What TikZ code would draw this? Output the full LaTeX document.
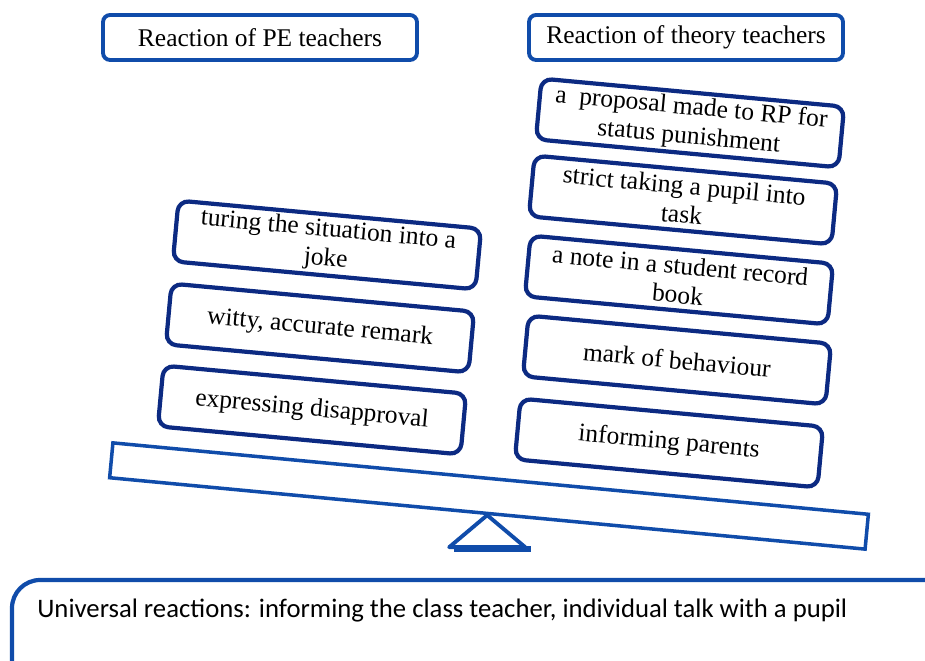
\documentclass[tikz,border=0pt]{standalone}
\usepackage{fontspec}
\setmainfont{Liberation Serif}
\newfontfamily\calibrifont{Carlito}
\definecolor{ScaleBlue}{RGB}{16,76,170}
\definecolor{BoxNavy}{RGB}{12,42,130}
\colorlet{ColourFrame}{ScaleBlue}
\colorlet{ColourBox}{BoxNavy}

\begin{document}
\begin{tikzpicture}[x=0.02cm,y=-0.02cm,
  headbox/.style={draw=ColourFrame, line width=2.2pt, rounded corners=4pt,
    minimum width=6.28cm, minimum height=0.9cm, font=\fontsize{14.5}{16}\selectfont},
  reactbox/.style={draw=ColourBox, line width=2.4pt, rounded corners=6pt, rotate=-5.3,
    minimum width=6.08cm, minimum height=1.22cm, align=center, inner sep=1pt,
    font=\fontsize{14.5}{16.5}\selectfont},
]

  \useasboundingbox (0,0) rectangle (925,661);
  \clip (0,0) rectangle (925,661);

  % headings
  \node[headbox] (pehead) at (260,37.5) {Reaction of PE teachers};
  \node[headbox] (thhead) at (686,37.5) {Reaction of theory teachers};

  % beam and fulcrum
  \node[draw=ColourFrame, line width=2pt, rotate=-5.4,
    minimum width=15.18cm, minimum height=0.7cm] (beam) at (489,496) {};
  \draw[ColourFrame, line width=2.2pt, line join=round]
    (beam.south) -- ++(38,32) -- ++(-76,0) -- cycle;
  \draw[ColourFrame, line width=3.4pt] (454,549) -- (531,549);

  % PE teachers
  \node[reactbox] (joke) at (327,245) {turing the situation into a\\joke};
  \node[reactbox] (witty) at (320,328) {witty, accurate remark};
  \node[reactbox] (disapp) at (312,410) {expressing disapproval};

  % theory teachers
  \node[reactbox] (propos) at (690,123) {a~ proposal made to RP for\\status punishment};
  \node[reactbox] (strict) at (683,200) {strict taking a pupil into\\task};
  \node[reactbox] (note) at (679,280) {a note in a student record\\book};
  \node[reactbox] (mark) at (677,360) {mark of behaviour};
  \node[reactbox] (parents) at (669,443) {informing parents};

  % universal reactions
  \draw[ColourFrame, line width=2.4pt, rounded corners=16pt]
    (12,700) -- (12,580) -- (960,580);
  \node[anchor=west, inner sep=0pt, font=\calibrifont\fontsize{15.2}{17}\selectfont] (univ) at (37,611)
    {Universal reactions: informing the class teacher, individual talk with a pupil};

\end{tikzpicture}
\end{document}
